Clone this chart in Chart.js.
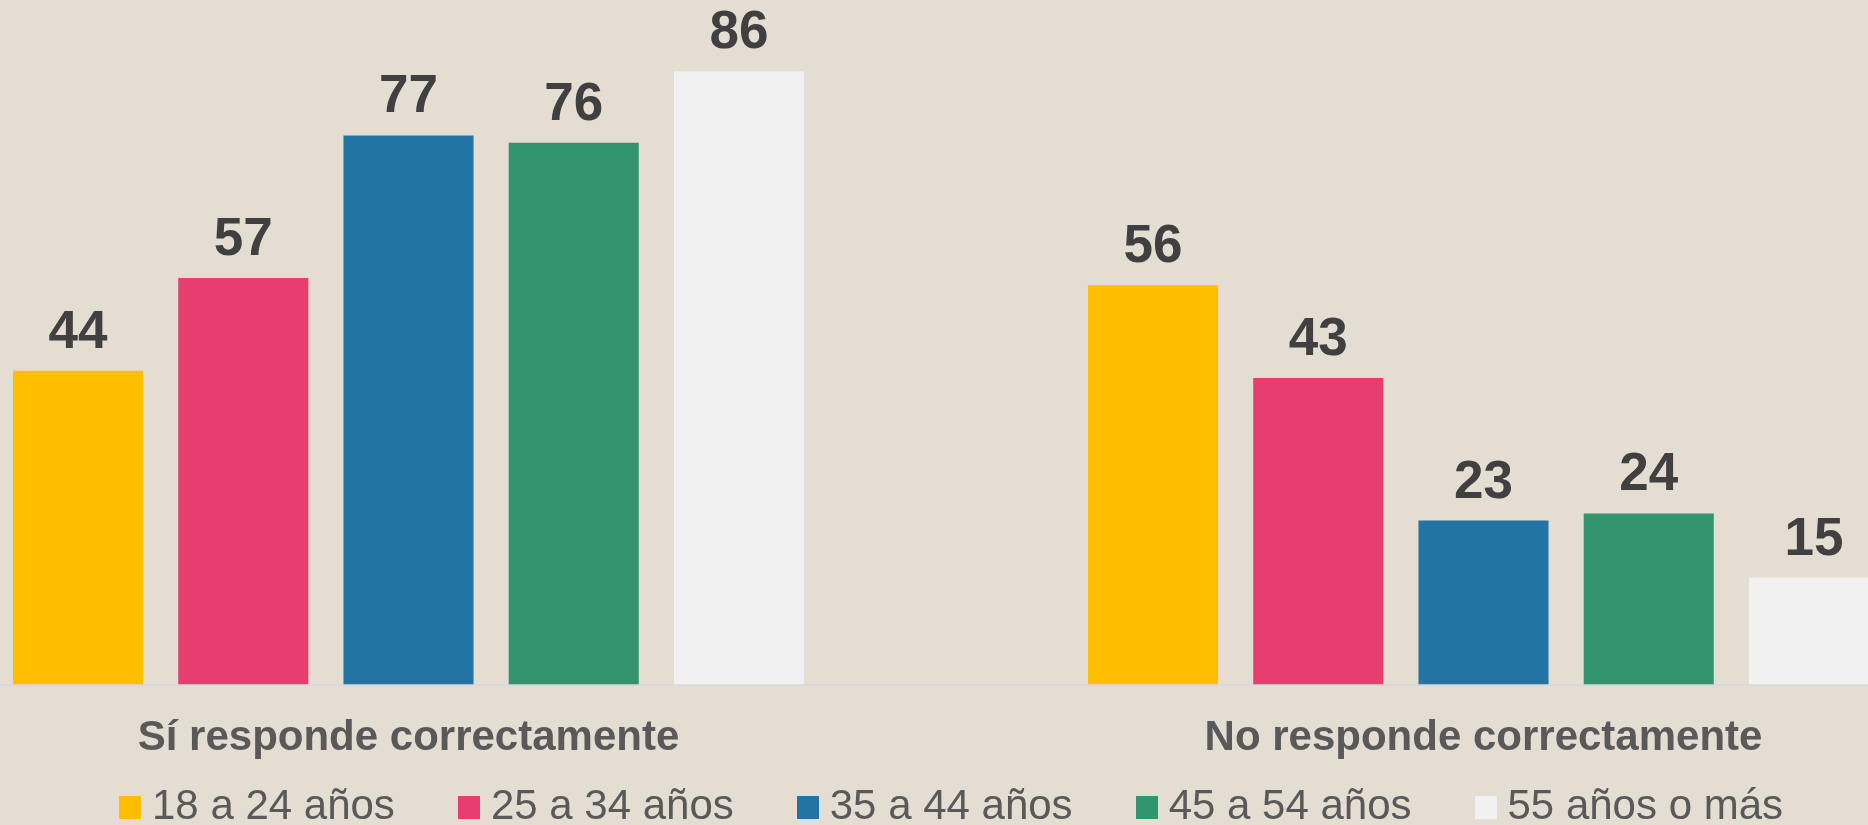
<!DOCTYPE html>
<html lang="es">
<head>
<meta charset="utf-8">
<title>Responde correctamente por edad</title>
<script src="https://cdn.jsdelivr.net/npm/chart.js@4.4.1/dist/chart.umd.min.js"></script>
<style>
  html, body { margin: 0; padding: 0; width: 1868px; height: 825px; overflow: hidden; background: #e3ddd2; }
  #chartBox { position: absolute; left: -129px; top: 0; width: 2150px; height: 793px; }
  #legend { position: absolute; left: 119px; top: 784px; display: flex; gap: 63px;
            font-family: "Liberation Sans", Arial, sans-serif; font-size: 42px; line-height: 42px; color: #595959; }
  .item { display: flex; align-items: flex-start; white-space: nowrap; }
  .item span.box { width: 22px; height: 23px; margin-top: 12px; margin-right: 11px; }
</style>
</head>
<body>
<div id="chartBox"><canvas id="ageChart"></canvas></div>
<div id="legend"></div>
<script>
const categories = ['Sí responde correctamente', 'No responde correctamente'];
const ageGroups = ['18 a 24 años', '25 a 34 años', '35 a 44 años', '45 a 54 años', '55 años o más'];
const age18to24 = [44, 56];
const age25to34 = [57, 43];
const age35to44 = [77, 23];
const age45to54 = [76, 24];
const age55plus = [86, 15];
const colors = ['#ffbf00', '#e83d6f', '#2274a5', '#32936f', '#f1f1f1'];

const seriesValues = [age18to24, age25to34, age35to44, age45to54, age55plus];

Chart.defaults.font.family = '"Liberation Sans", Arial, sans-serif';

// etiquetas de valor encima de cada barra
const valueLabels = {
    id: 'valueLabels',
    afterDatasetsDraw(chart) {
        const ctx = chart.ctx;
        ctx.save();
        ctx.font = 'bold 53px "Liberation Sans", Arial, sans-serif';
        ctx.fillStyle = '#404040';
        ctx.textAlign = 'center';
        ctx.textBaseline = 'alphabetic';
        chart.data.datasets.forEach((ds, i) => {
            chart.getDatasetMeta(i).data.forEach((bar, j) => {
                ctx.fillText(ds.data[j], bar.x, bar.y - 23);
            });
        });
        ctx.restore();
    }
};

const ctx = document.getElementById('ageChart').getContext('2d');
new Chart(ctx, {
    type: 'bar',
    data: {
        labels: categories,
        datasets: ageGroups.map((name, i) => ({
            label: name,
            data: seriesValues[i],
            backgroundColor: colors[i],
            borderWidth: 0,
            categoryPercentage: 0.7686,
            barPercentage: 0.787
        }))
    },
    options: {
        responsive: true,
        maintainAspectRatio: false,
        animation: false,
        layout: { padding: 0 },
        plugins: {
            legend: { display: false },
            tooltip: { enabled: false }
        },
        scales: {
            y: { display: false, min: 0, max: 96 },
            x: {
                grid: { display: false, drawTicks: false },
                border: { display: true, color: '#d9d9d9', width: 2 },
                ticks: {
                    color: '#595959',
                    padding: 29,
                    font: { size: 42, weight: 'bold' }
                }
            }
        }
    },
    plugins: [valueLabels]
});

// leyenda
const legend = document.getElementById('legend');
ageGroups.forEach((name, i) => {
    const item = document.createElement('div');
    item.className = 'item';
    item.innerHTML = `<span class="box" style="background:${colors[i]}"></span>${name}`;
    legend.appendChild(item);
});
</script>
</body>
</html>
